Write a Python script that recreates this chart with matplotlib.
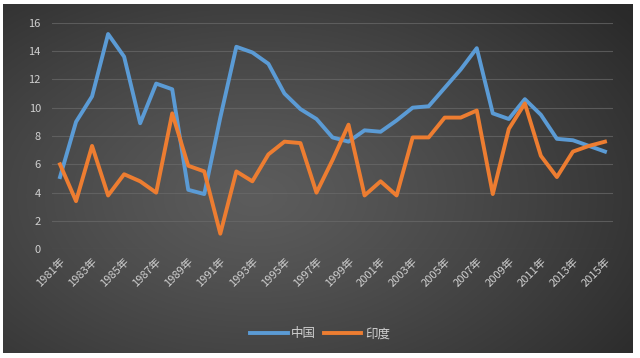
import numpy as np
import matplotlib
matplotlib.use("Agg")
import matplotlib.pyplot as plt

plt.rcParams['font.family'] = ['Noto Sans CJK SC', 'DejaVu Sans']

years = list(range(1981, 2016))
china = [5.1, 9.0, 10.8, 15.2, 13.6, 8.9, 11.7, 11.3, 4.2, 3.9,
         9.3, 14.3, 13.9, 13.1, 11.0, 9.9, 9.2, 7.9, 7.6, 8.4,
         8.3, 9.1, 10.0, 10.1, 11.4, 12.7, 14.2, 9.6, 9.2, 10.6,
         9.5, 7.8, 7.7, 7.3, 6.9]
india = [6.0, 3.4, 7.3, 3.8, 5.3, 4.8, 4.0, 9.6, 5.9, 5.5,
         1.1, 5.5, 4.8, 6.7, 7.6, 7.5, 4.0, 6.3, 8.8, 3.8,
         4.8, 3.8, 7.9, 7.9, 9.3, 9.3, 9.8, 3.9, 8.5, 10.3,
         6.6, 5.1, 6.9, 7.3, 7.6]
tick_years = years[::2]
tick_labels = [f"{y}年" for y in tick_years]

W, H = 640, 358
fig = plt.figure(figsize=(W / 100, H / 100), dpi=100)
fig.patch.set_facecolor('white')

# background gradient panel
bg = fig.add_axes([3 / W, 1 - 353 / H, 630 / W, 349 / H])
bg.set_axis_off()
gx, gy = np.meshgrid(np.linspace(0, 1, 400), np.linspace(0, 1, 250))
d = np.sqrt(((gx - 0.40) / 0.75) ** 2 + ((gy - 0.55) / 0.85) ** 2)
d = np.clip(d, 0, 1)
c_in = np.array([0x5c, 0x5c, 0x5c]) / 255
c_out = np.array([0x2a, 0x2a, 0x2a]) / 255
w = d[..., None] ** 1.2
img = c_in[None, None, :] * (1 - w) + c_out[None, None, :] * w
bg.imshow(img, aspect='auto', extent=[0, 1, 0, 1], origin='upper')

left, right = 52 / W, 613 / W
bottom, top = 1 - 249.3 / H, 1 - 22.7 / H
ax = fig.add_axes([left, bottom, right - left, top - bottom])
ax.patch.set_alpha(0)

ax.plot(years, china, color='#5b9bd5', lw=2.8, label='中国', solid_joinstyle='round', zorder=3)
ax.plot(years, india, color='#ed7d31', lw=2.8, label='印度', solid_joinstyle='round', zorder=3)

ax.set_xlim(1980.5, 2015.5)
ax.set_ylim(0, 16)
ax.set_yticks(range(0, 17, 2))
ax.grid(axis='y', color='#6a6a6a', lw=0.8, alpha=0.7)
ax.set_axisbelow(True)
for s in ax.spines.values():
    s.set_visible(False)
ax.tick_params(axis='both', length=0, colors='#d0d0d0', labelsize=8)
ax.tick_params(axis='y', pad=8)
ax.set_xticks(tick_years)
ax.set_xticklabels(tick_labels, rotation=45, ha='right', va='top',
                   rotation_mode='anchor', color='#d0d0d0', fontsize=8)
ax.tick_params(axis='x', pad=5)

leg = fig.legend(loc='center', bbox_to_anchor=(0.5, 1 - 334 / H), ncol=2,
                 frameon=False, fontsize=9, handlelength=3.0, columnspacing=0.6,
                 handletextpad=0.3)
for t in leg.get_texts():
    t.set_color('#d0d0d0')

fig.savefig('out.png', dpi=100, facecolor='white')
